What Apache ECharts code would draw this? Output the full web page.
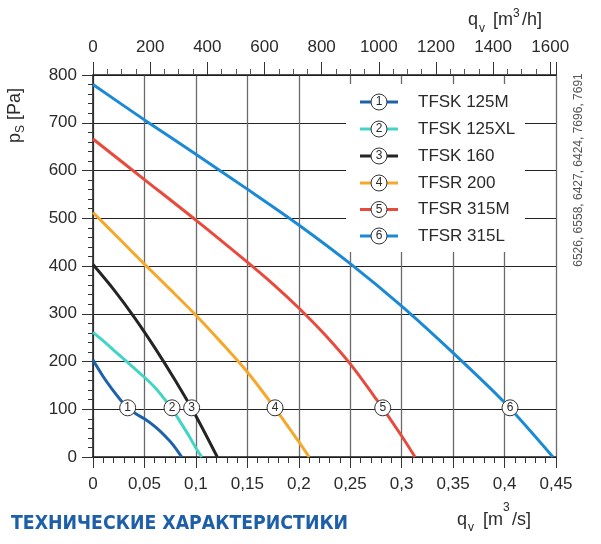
<!DOCTYPE html>
<html><head><meta charset="utf-8">
<script src="https://cdn.jsdelivr.net/npm/echarts@6/dist/echarts.min.js"></script>
<style>html,body{margin:0;padding:0;background:#fff}#c{width:601px;height:544px}</style>
</head><body><div id="c"></div>
<script>
// ---------- data ----------
const seriesNames = ['TFSK 125M', 'TFSK 125XL', 'TFSK 160', 'TFSR 200', 'TFSR 315M', 'TFSR 315L'];
const markerNumbers = ['1', '2', '3', '4', '5', '6'];

const q1 = [0, 0.01, 0.02, 0.03, 0.0337, 0.042, 0.05, 0.06, 0.07, 0.078, 0.0862];
const p1 = [203, 168, 138, 111, 103, 90, 80, 64, 44, 25, 0];

const q2 = [0, 0.01, 0.02, 0.03, 0.04, 0.05, 0.06, 0.07, 0.077, 0.085, 0.0925, 0.1, 0.1056];
const p2 = [261, 243, 224, 205, 186, 167, 146, 120, 100, 73, 47, 19, 0];

const q3 = [0, 0.02, 0.04, 0.06, 0.08, 0.1, 0.1208];
const p3 = [403, 351, 293, 229, 160, 86, 0];

const q4 = [0, 0.025, 0.05, 0.075, 0.1, 0.125, 0.15, 0.1769, 0.2, 0.21];
const p4 = [512, 458, 404, 351, 297, 239, 178, 102, 32, 0];

const q5 = [0, 0.05, 0.1, 0.15, 0.175, 0.2, 0.225, 0.25, 0.275, 0.3, 0.313];
const p5 = [666, 581, 496, 408, 362, 312, 257, 195, 122, 44, 0];

const q6 = [0, 0.05, 0.1, 0.15, 0.2, 0.25, 0.3, 0.35, 0.4, 0.447];
const p6 = [780, 706, 634, 561, 486, 405, 316, 218, 114, 0];

const markerQ = [0.0337, 0.0768, 0.0959, 0.1769, 0.2816, 0.4053];
const markerP = [103, 103, 103, 103, 103, 103];

const xTickLabels = ['0', '0,05', '0,1', '0,15', '0,2', '0,25', '0,3', '0,35', '0,4', '0,45'];
const yTickLabels = ['0', '100', '200', '300', '400', '500', '600', '700', '800'];
const topTickLabels = ['0', '200', '400', '600', '800', '1000', '1200', '1400', '1600'];

const codesText = '6526, 6558, 6427, 6424, 7696, 7691';
const headingText = 'ТЕХНИЧЕСКИЕ ХАРАКТЕРИСТИКИ';

// ---------- styling ----------
const colors = ['#1c62aa', '#42d5c6', '#242424', '#f5a82a', '#e84a3c', '#1a8ad6'];
const FONT = '"Liberation Sans", Arial, Helvetica, sans-serif';
const TXT = '#2a2a2a';

const qs = [q1, q2, q3, q4, q5, q6];
const ps = [p1, p2, p3, p4, p5, p6];

const series = [];
for (let i = 0; i < 6; i++) {
  series.push({
    type: 'line', name: seriesNames[i], xAxisIndex: 0, yAxisIndex: 0,
    data: qs[i].map((q, j) => [q, ps[i][j]]),
    showSymbol: false, smooth: 0.3,
    lineStyle: { color: colors[i], width: 3 }, z: 3, silent: true
  });
}
series.push({
  type: 'scatter', xAxisIndex: 0, yAxisIndex: 0, z: 5, silent: true,
  symbol: 'circle', symbolSize: 16,
  itemStyle: { color: '#fff', borderColor: '#333', borderWidth: 1, opacity: 1 },
  label: { show: true, position: 'inside', fontSize: 12, color: TXT, fontFamily: FONT,
    formatter: p => markerNumbers[p.dataIndex] },
  data: markerQ.map((q, i) => [q, markerP[i]])
});

// legend built as graphics
const legendEls = [{
  type: 'rect', shape: { x: 346, y: 84, width: 179, height: 168 },
  style: { fill: '#fff' }, z: 50
}];
const rowY = [102, 129, 156, 183, 209.5, 236];
for (let i = 0; i < 6; i++) {
  const yc = rowY[i];
  legendEls.push({ type: 'line', shape: { x1: 360, y1: yc, x2: 398, y2: yc },
    style: { stroke: colors[i], lineWidth: 3 }, z: 51 });
  legendEls.push({ type: 'circle', shape: { cx: 379, cy: yc, r: 8 },
    style: { fill: '#fff', stroke: '#333', lineWidth: 1 }, z: 52 });
  legendEls.push({ type: 'text', x: 379, y: yc, z: 53,
    style: { text: markerNumbers[i], fontSize: 12, fontFamily: FONT, fill: TXT, align: 'center', verticalAlign: 'middle' } });
  legendEls.push({ type: 'text', x: 418, y: yc, z: 53,
    style: { text: seriesNames[i], fontSize: 17, fontFamily: FONT, fill: TXT, align: 'left', verticalAlign: 'middle' } });
}

function t(x, y, text, size, extra) {
  return Object.assign({ type: 'text', x: x, y: y, z: 60,
    style: Object.assign({ text: text, fontSize: size, fontFamily: FONT, fill: TXT, align: 'left', verticalAlign: 'middle' }, extra || {}) });
}

const titleEls = [
  { type: 'group', x: 15, y: 143, rotation: Math.PI / 2, z: 60, children: [
    t(0, 0, 'p', 18), t(10, 6, 'S', 12), t(23, 0, '[Pa]', 18)
  ] },
  t(468, 20.5, 'q', 18), t(479, 28.8, 'v', 12), t(493, 20.5, '[m', 18), t(513, 13.5, '3', 12), t(522, 20.5, '/h]', 18),
  t(457, 519.8, 'q', 18), t(468, 527.8, 'v', 12), t(483, 519.8, '[m', 18), t(503, 507.5, '3', 12), t(512, 519.8, '/s]', 18),
  { type: 'text', x: 579, y: 170, rotation: Math.PI / 2, z: 60,
    style: { text: codesText, fontSize: 12, fontFamily: FONT, fill: '#555', align: 'center', verticalAlign: 'middle' } },
  { type: 'text', x: 11, y: 523.8, z: 60,
    style: { text: headingText, fontSize: 19.3, fontWeight: 'bold', fontFamily: '"DejaVu Sans Condensed", "DejaVu Sans", sans-serif',
      fill: '#1d5fa9', align: 'left', verticalAlign: 'middle' } }
];

const chart = echarts.init(document.getElementById('c'), null, { renderer: 'canvas' });
chart.setOption({
  animation: false,
  backgroundColor: '#fff',
  grid: { left: 93, right: 45, top: 75, bottom: 87, containLabel: false },
  xAxis: [{
    type: 'value', position: 'bottom', min: 0, max: 0.45, interval: 0.05,
    axisLine: { show: true, onZero: false, lineStyle: { color: '#1a1a1a', width: 1.5 } },
    axisTick: { show: true, length: 11, lineStyle: { color: '#333', width: 1 } },
    minorTick: { show: true, splitNumber: 5, length: 6, lineStyle: { color: '#333', width: 1 } },
    splitLine: { show: true, lineStyle: { color: '#6a6a6a', width: 1.3 } },
    axisLabel: { margin: 19, fontSize: 17, color: TXT, fontFamily: FONT,
      formatter: v => { const k = Math.round(v / 0.05); return xTickLabels[k] !== undefined ? xTickLabels[k] : ''; } }
  }, {
    type: 'value', position: 'top', min: 0, max: 1620, interval: 200,
    axisLine: { show: true, onZero: false, lineStyle: { color: '#1a1a1a', width: 1.5 } },
    axisTick: { show: true, length: 13, lineStyle: { color: '#333', width: 1 } },
    minorTick: { show: true, splitNumber: 4, length: 6, lineStyle: { color: '#555', width: 1 } },
    splitLine: { show: false },
    axisLabel: { margin: 19, fontSize: 17, color: TXT, fontFamily: FONT,
      formatter: v => { if (v > 1600.5) return ''; const k = Math.round(v / 200); return topTickLabels[k] !== undefined ? topTickLabels[k] : ''; } }
  }],
  yAxis: [{
    type: 'value', min: 0, max: 800, interval: 100,
    axisLine: { show: true, onZero: false, lineStyle: { color: '#1a1a1a', width: 1.5 } },
    axisTick: { show: true, length: 11, lineStyle: { color: '#333', width: 1 } },
    minorTick: { show: true, splitNumber: 5, length: 5, lineStyle: { color: '#333', width: 1 } },
    splitLine: { show: true, lineStyle: { color: '#222', width: 1 } },
    axisLabel: { margin: 16, fontSize: 17, color: TXT, fontFamily: FONT,
      formatter: v => { const k = Math.round(v / 100); return yTickLabels[k] !== undefined ? yTickLabels[k] : ''; } }
  }],
  series: series,
  graphic: legendEls.concat(titleEls)
});
</script>
</body></html>
